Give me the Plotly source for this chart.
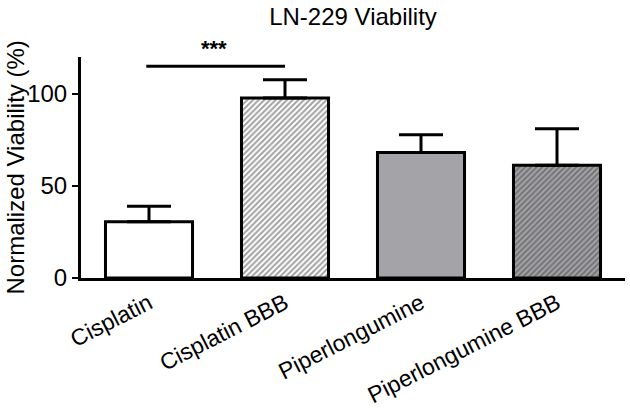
import plotly.graph_objects as go

categories = ["Cisplatin", "Cisplatin BBB", "Piperlongumine", "Piperlongumine BBB"]
means = [30.5, 97.8, 68.1, 61.2]
err_top = [38.9, 107.6, 77.8, 81.1]
fill_colors = ["white", "white", "#a4a4a8", "#a4a4a8"]
pattern_shapes = ["", "/", "", "/"]
pattern_fg = ["black", "black", "black", "#2a2a2a"]
y_ticks = [0, 50, 100]
sig_pair = [0, 1]
sig_level = 115
sig_text = "***"

FONT = "Liberation Sans, Arial, sans-serif"
W, H = 630, 411

fig = go.Figure()
fig.add_trace(go.Bar(
    x=list(range(len(categories))),
    y=means,
    width=0.64,
    marker=dict(
        color=fill_colors,
        line=dict(color="black", width=3),
        pattern=dict(shape=pattern_shapes, fgcolor=pattern_fg, size=4, solidity=0.5),
    ),
    error_y=dict(
        type="data", symmetric=False,
        array=[t - m for t, m in zip(err_top, means)],
        arrayminus=[0] * len(means),
        color="black", thickness=3, width=22,
    ),
    showlegend=False,
    hoverinfo="skip",
))

fig.add_shape(type="line", xref="x", yref="y",
              x0=sig_pair[0] - 0.02, x1=sig_pair[1], y0=sig_level, y1=sig_level,
              line=dict(color="black", width=3))
fig.add_annotation(x=(sig_pair[0] + sig_pair[1]) / 2 - 0.02, y=sig_level + 2, xref="x", yref="y",
                   text="<b>" + sig_text + "</b>", showarrow=False, yanchor="bottom",
                   font=dict(family=FONT, size=22, color="black"))

fig.add_annotation(x=-66 / 544, y=0.5, xref="paper", yref="paper",
                   text="Normalized Viability (%)", textangle=-90, showarrow=False,
                   xanchor="center", yanchor="middle",
                   font=dict(family=FONT, size=24, color="black"))

fig.update_layout(
    width=W, height=H,
    margin=dict(l=81, r=5, t=57, b=133, autoexpand=False),
    plot_bgcolor="white", paper_bgcolor="white",
    title=dict(text="LN-229 Viability", x=0.5, xref="paper", xanchor="center",
               y=1 - 17 / H, yanchor="middle", automargin=False,
               font=dict(family=FONT, size=24, color="black")),
    xaxis=dict(
        range=[-0.5, 3.5], tickmode="array", tickvals=list(range(len(categories))),
        ticktext=categories, tickangle=-27, showline=True, linecolor="black", linewidth=3,
        ticks="", showgrid=False, zeroline=False, automargin=False,
        tickfont=dict(family=FONT, size=23, color="black"),
    ),
    yaxis=dict(
        range=[0, 120], tickmode="array", tickvals=y_ticks, showline=True,
        linecolor="black", linewidth=3, ticks="outside", ticklen=6, tickwidth=2,
        tickcolor="black", showgrid=False, zeroline=False, automargin=False,
        tickfont=dict(family=FONT, size=24, color="black"),
    ),
)

fig.write_html("out.html", config={"displayModeBar": False},
               post_script="document.body.style.margin='0';document.body.style.overflow='hidden';")
